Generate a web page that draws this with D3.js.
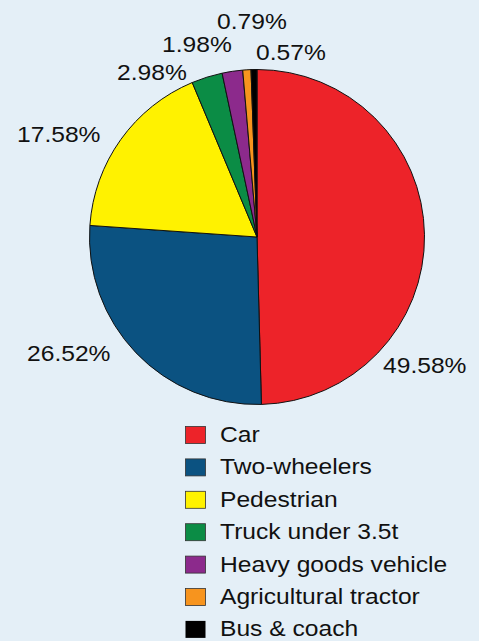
<!DOCTYPE html>
<html>
<head>
<meta charset="utf-8">
<script src="https://cdn.jsdelivr.net/npm/d3@7/dist/d3.min.js"></script>
<style>
  html, body { margin: 0; padding: 0; background: #e4eff7; }
  svg { display: block; }
  text { font-family: "Liberation Sans", Arial, Helvetica, sans-serif; fill: #111; }
</style>
</head>
<body>
<svg id="chart" width="479" height="641"></svg>
<script>
// ---- data ----
const categories = ["Car", "Two-wheelers", "Pedestrian", "Truck under 3.5t", "Heavy goods vehicle", "Agricultural tractor", "Bus & coach"];
const values = [49.58, 26.52, 17.58, 2.98, 1.98, 0.79, 0.57];
const valueLabels = ["49.58%", "26.52%", "17.58%", "2.98%", "1.98%", "0.79%", "0.57%"];
const colors = ["#ed2329", "#0b5281", "#fff200", "#0b8c45", "#8c2a8c", "#f7941e", "#000000"];

// ---- layout (not data) ----
const W = 479, H = 641;
const cx = 257, cy = 237, R = 167.5;
const fontSize = 22, stretch = 1.12;
// label anchor positions (left x, baseline y)
const labelPos = [[383, 373], [27, 361], [17, 142], [117, 80], [162, 52], [217, 29], [256, 60]];
const legendX = 185, legendTextX = 220, legendBase0 = 442, legendStep = 32.4;

const svg = d3.select("#chart");
svg.append("rect").attr("width", W).attr("height", H).attr("fill", "#e4eff7");

const pie = d3.pie().sort(null).value(d => d.v);
const data = categories.map((c, i) => ({ c, v: values[i], col: colors[i], lab: valueLabels[i], i }));
const arcs = pie(data);
const arc = d3.arc().innerRadius(0).outerRadius(R);

const g = svg.append("g").attr("transform", `translate(${cx},${cy})`);
g.selectAll("path").data(arcs).join("path")
  .attr("d", arc)
  .attr("fill", d => d.data.col)
  .attr("stroke", "#111")
  .attr("stroke-width", 1)
  .attr("stroke-linejoin", "round");

// value labels
svg.selectAll("text.val").data(arcs).join("text")
  .attr("class", "val")
  .attr("transform", d => `translate(${labelPos[d.index][0]},${labelPos[d.index][1]}) scale(${stretch},1)`)
  .attr("font-size", fontSize)
  .text(d => d.data.lab);

// legend
const leg = svg.append("g");
const rows = leg.selectAll("g").data(data).join("g")
  .attr("transform", (d, i) => `translate(0,${legendBase0 + i * legendStep})`);
rows.append("rect")
  .attr("x", legendX + 0.5).attr("y", -15.5)
  .attr("width", 20).attr("height", 17)
  .attr("fill", d => d.col)
  .attr("stroke", d => d.i === 6 ? "none" : "#333")
  .attr("stroke-width", 0.8);
rows.append("text")
  .attr("transform", `translate(${legendTextX},0) scale(${stretch},1)`)
  .attr("font-size", fontSize)
  .text(d => d.c);
</script>
</body>
</html>
